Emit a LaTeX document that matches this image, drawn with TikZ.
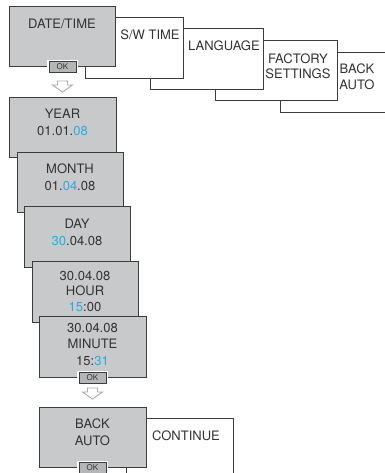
\documentclass[tikz,border=0pt]{standalone}
\usepackage{fontspec}
\setmainfont{TeX Gyre Heros}
\definecolor{boxgray}{HTML}{C8C9CB}
\definecolor{edge}{HTML}{3C3C3C}
\definecolor{ink}{HTML}{333333}
\definecolor{hl}{HTML}{29ABE2}
\definecolor{okgray}{HTML}{B5B6B8}
\definecolor{arrowgray}{HTML}{AAAAAA}
\newcommand\hlt[1]{\textcolor{hl}{#1}}
\begin{document}
\begin{tikzpicture}[x=1pt,y=-1pt,
  menubox/.style={draw=edge, line width=1pt, anchor=north west, inner sep=0pt},
  wbox/.style={menubox, fill=white},
  gbox/.style={menubox, fill=boxgray},
  lbl/.style={anchor=base, inner sep=0pt, text=ink, font=\fontsize{13}{15}\selectfont},
  okbtn/.style={draw=edge, line width=0.8pt, fill=okgray, minimum width=27pt, minimum height=11pt,
    inner sep=0pt, text=ink, font=\fontsize{8}{9}\selectfont,
    preaction={draw=white, line width=3.5pt}},
  hollow/.style={draw=arrowgray, line width=0.9pt, fill=white, line join=miter}
]
\useasboundingbox (0,0) rectangle (384,473);

% top menu row
\node[wbox, minimum width=125pt, minimum height=60pt] (ba1) at (280,52) {};
\node[lbl] (t-back1) at (357,73.7) {BACK};
\node[lbl] (t-auto1) at (357,89.7) {AUTO};
\node[wbox, minimum width=122pt, minimum height=60pt] (fs) at (215,40) {};
\node[lbl] (t-fac) at (298,63.7) {FACTORY};
\node[lbl] (t-set) at (298,78.7) {SETTINGS};
\node[wbox, minimum width=113pt, minimum height=61pt] (lang) at (150,28) {};
\node[lbl] (t-lang) at (224,50.7) {LANGUAGE};
\node[wbox, minimum width=98pt, minimum height=61pt] (sw) at (85,17) {};
\node[lbl] (t-sw) at (150,39.7) {S/W TIME};
\node[gbox, minimum width=106pt, minimum height=60pt] (dt) at (9,6) {};
\node[lbl] (t-dt) at (62,28.7) {DATE/TIME};
\node[okbtn] (ok1) at (62.5,67) {OK};

\coordinate (ar1) at (62.5,81);
\draw[hollow] (ar1) ++(-5,0) -- ++(10,0) -- ++(0,4) -- ++(5,0) -- ++(-10,7) -- ++(-10,-7) -- ++(5,0) -- cycle;

% stacked date/time screens
\node[gbox, minimum width=107pt, minimum height=60pt] (year) at (9,97) {};
\node[lbl] (t-year) at (62.5,118.7) {YEAR};
\node[lbl] (d-year) at (62.5,135.7) {01.01.\hlt{08}};
\node[gbox, minimum width=106pt, minimum height=60pt] (month) at (17,152) {};
\node[lbl] (t-month) at (70,173.7) {MONTH};
\node[lbl] (d-month) at (70,190.7) {01.\hlt{04}.08};
\node[gbox, minimum width=106pt, minimum height=61pt] (day) at (24,206) {};
\node[lbl] (t-day) at (77,228.7) {DAY};
\node[lbl] (d-day) at (77,245.7) {\hlt{30}.04.08};
\node[gbox, minimum width=106pt, minimum height=61pt] (hour) at (32,261) {};
\node[lbl] (d-hour) at (85,280.7) {30.04.08};
\node[lbl] (t-hour) at (85,295.7) {HOUR};
\node[lbl] (h-hour) at (85,311.7) {\hlt{15}:00};
\node[gbox, minimum width=107pt, minimum height=61pt] (minute) at (39,316) {};
\node[lbl] (d-min) at (92.5,332.7) {30.04.08};
\node[lbl] (t-min) at (92.5,348.7) {MINUTE};
\node[lbl] (h-min) at (92.5,365.7) {15:\hlt{31}};
\node[okbtn] (ok2) at (92.5,378) {OK};

\coordinate (ar2) at (92.5,388);
\draw[hollow] (ar2) ++(-5,0) -- ++(10,0) -- ++(0,4) -- ++(5,0) -- ++(-10,7) -- ++(-10,-7) -- ++(5,0) -- cycle;

% final screen
\node[wbox, minimum width=107pt, minimum height=70pt] (cont) at (126,418) {};
\node[lbl] (t-cont) at (186,440.7) {CONTINUE};
\node[gbox, minimum width=107pt, minimum height=60pt] (ba2) at (39,407) {};
\node[lbl] (t-back2) at (92.5,428.7) {BACK};
\node[lbl] (t-auto2) at (92.5,445.7) {AUTO};
\node[okbtn] (ok3) at (92.5,468) {OK};
\end{tikzpicture}
\end{document}
